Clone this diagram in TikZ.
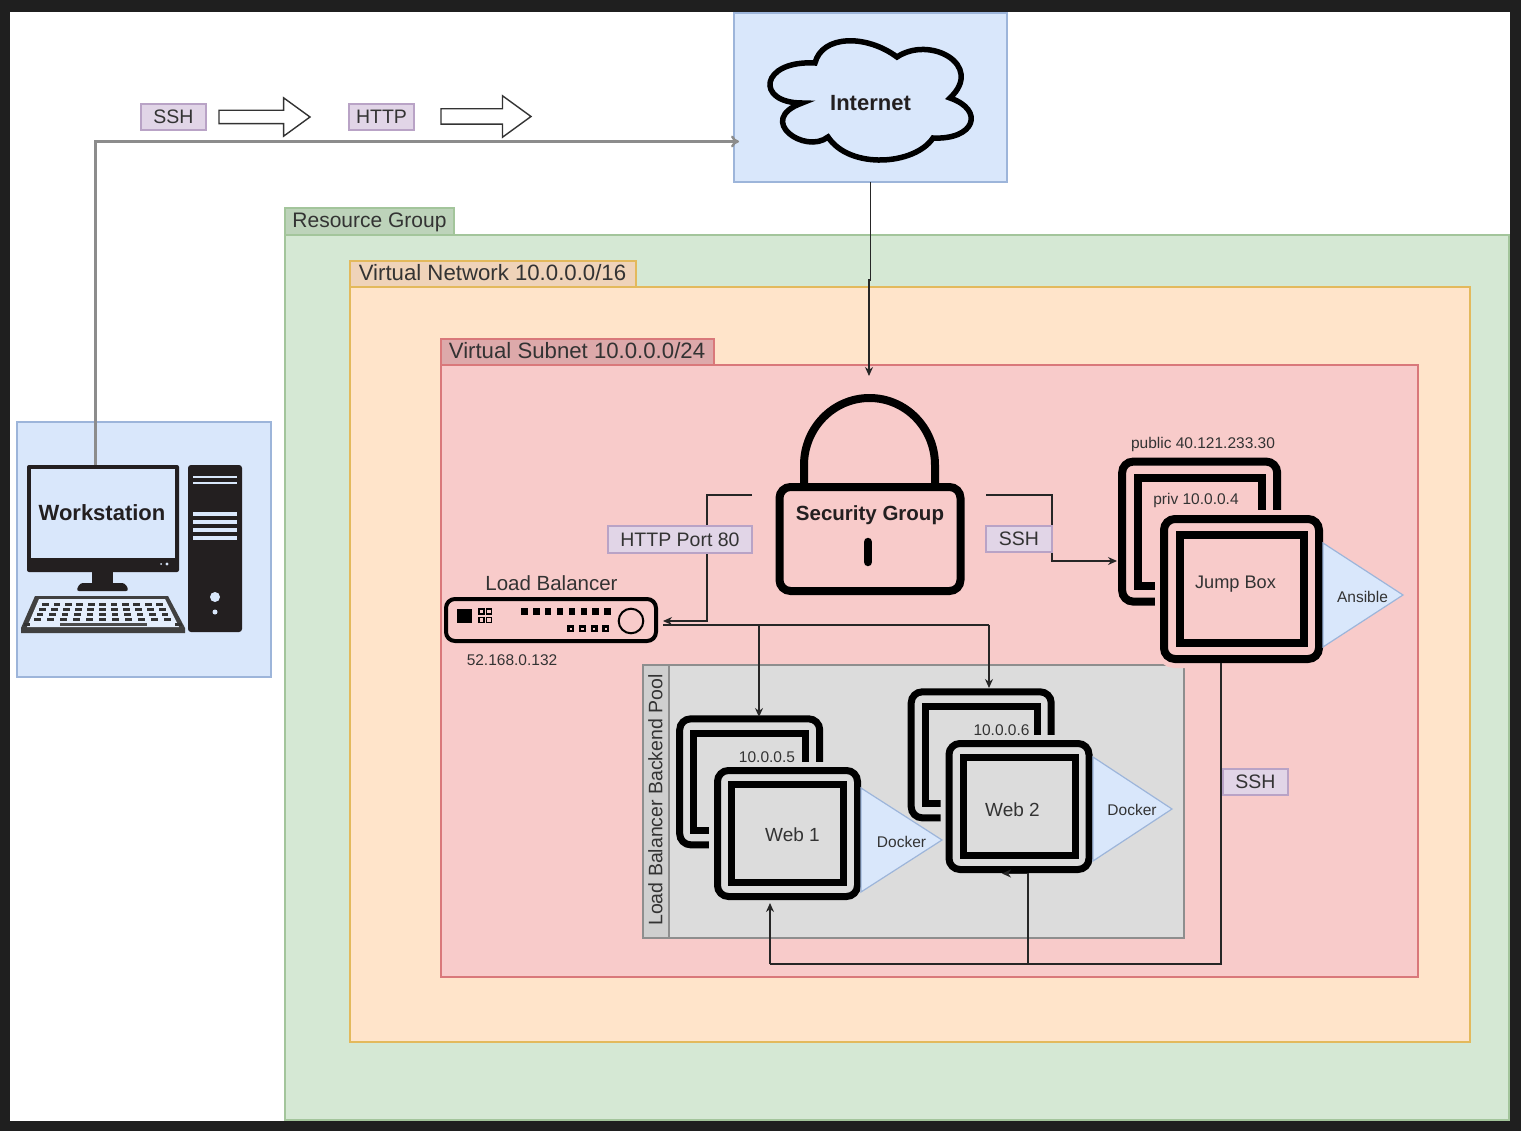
\documentclass[tikz,border=0pt]{standalone}
\usepackage{fontspec}
\setmainfont{Liberation Sans}
\usetikzlibrary{shapes.arrows,arrows.meta}
\definecolor{bluefill}{HTML}{D9E7FB}
\definecolor{blueline}{HTML}{9DB5DA}
\definecolor{greenfill}{HTML}{D5E8D4}
\definecolor{greenline}{HTML}{A3C59B}
\definecolor{greentab}{HTML}{BDD3BA}
\definecolor{orangefill}{HTML}{FFE4CA}
\definecolor{orangeline}{HTML}{E3B95C}
\definecolor{orangetab}{HTML}{EFD3B9}
\definecolor{redfill}{HTML}{F8CBCA}
\definecolor{redline}{HTML}{D9787A}
\definecolor{redtab}{HTML}{DDA9AA}
\definecolor{poolfill}{HTML}{DCDCDC}
\definecolor{poolstrip}{HTML}{CFCFCF}
\definecolor{poolline}{HTML}{8E8E8E}
\definecolor{tagfill}{HTML}{E1D5E7}
\definecolor{tagline}{HTML}{B9A3C6}
\definecolor{ink}{HTML}{333333}
\definecolor{pcblack}{HTML}{231F20}
\tikzset{
    px/.style={font=\fontsize{#1}{#1}\selectfont},
    plainbox/.style={rectangle,draw,inner sep=0pt,outer sep=0pt,line width=1.6pt},
    blockarrow/.style={single arrow,draw=ink,fill=white,line width=1.4pt,inner sep=0pt,outer sep=0pt,anchor=tip,
        text height=#1,text depth=0pt,single arrow head indent=0pt,single arrow tip angle=72},
    tagbox/.style={plainbox,draw=tagline,fill=tagfill,text=ink,px=19.5},
    grouptab/.style={plainbox,text=ink,px=21,anchor=north west},
    smalltext/.style={text=ink,px=15.5,inner sep=0pt},
    bigtext/.style={text=ink,px=19,inner sep=0pt},
    boldtext/.style={text=pcblack,font=\bfseries\fontsize{22}{22}\selectfont,inner sep=0pt},
    wire/.style={draw=black!85,line width=1.2pt},
    linkarrow/.style={-{Stealth[length=9pt,width=8pt]}},
    uplink/.style={draw=black!45,line width=2.4pt,line cap=square,
        -{To[length=8pt,width=12pt]}},
    triangletip/.style={draw=blueline,fill=bluefill,line width=1.2pt}
}
\newcommand{\serverbox}[7]{
    \pgfmathsetmacro{\bx}{#2-0.27*#4}
    \pgfmathsetmacro{\by}{#3-0.41*#5}
    \pgfmathsetmacro{\iw}{0.8*#4}
    \pgfmathsetmacro{\ih}{0.77*#5}
    \node (#1back) [rectangle,draw=black,line width=#7,rounded corners=11pt,inner sep=0pt,
        minimum width=#4pt,minimum height=#5pt] at (\bx,\by) {};
    \node (#1backin) [rectangle,draw=black,line width=#7,inner sep=0pt,
        minimum width=\iw pt,minimum height=\ih pt] at (\bx,\by) {};
    \node (#1halo) [rectangle,draw=#6,fill=#6,line width=#7+10pt,rounded corners=11pt,inner sep=0pt,
        minimum width=#4pt,minimum height=#5pt] at (#2,#3) {};
    \node (#1) [rectangle,draw=black,line width=#7,rounded corners=11pt,inner sep=0pt,
        minimum width=#4pt,minimum height=#5pt] at (#2,#3) {};
    \node (#1in) [rectangle,draw=black,line width=#7,inner sep=0pt,
        minimum width=\iw pt,minimum height=\ih pt] at (#2,#3) {};
}
\begin{document}
\begin{tikzpicture}[x=1pt,y=-1pt]
    \useasboundingbox (0,0) rectangle (1521,1131);
    \fill[black!88] (0,0) rectangle (1521,1131);
    \fill[white] (10,12) rectangle (1510,1121);

    \node (wsbg) [plainbox,draw=blueline,fill=bluefill,minimum width=254pt,minimum height=255pt] at (144,549.5) {};
    \node (inetbg) [plainbox,draw=blueline,fill=bluefill,minimum width=273pt,minimum height=169pt] at (870.5,97.5) {};
    \node (resgroup) [plainbox,draw=greenline,fill=greenfill,minimum width=1224pt,minimum height=885pt] at (897,677.5) {};
    \node (resgrouptab) [grouptab,draw=greenline,fill=greentab,minimum width=169pt,minimum height=27pt] at (285,208) {};
    \node (vnet) [plainbox,draw=orangeline,fill=orangefill,minimum width=1120pt,minimum height=755pt] at (910,664.5) {};
    \node (vnettab) [grouptab,draw=orangeline,fill=orangetab,minimum width=286pt,minimum height=26pt] at (350,261) {};
    \node (subnet) [plainbox,draw=redline,fill=redfill,minimum width=977pt,minimum height=612pt] at (929.5,671) {};
    \node (subnettab) [grouptab,draw=redline,fill=redtab,minimum width=273pt,minimum height=26pt] at (441,339) {};
    \node (pool) [plainbox,draw=poolline,fill=poolfill,minimum width=541pt,minimum height=273pt] at (913.5,801.5) {};
    \node (poolstrip) [plainbox,draw=poolline,fill=poolstrip,minimum width=26pt,minimum height=273pt] at (656,801.5) {};

    \node (restext) [text=ink,px=21,inner sep=0pt] at (369.5,222) {Resource Group};
    \node (vnettext) [text=ink,px=22.2,inner sep=0pt] at (492.5,273) {Virtual Network 10.0.0.0/16};
    \node (subnettext) [text=ink,px=22.2,inner sep=0pt] at (577,351) {Virtual Subnet 10.0.0.0/24};
    \node (pooltext) [text=ink,px=19.5,inner sep=0pt,rotate=90] at (655.5,800) {Load Balancer Backend Pool};

    \coordinate (wsout) at (95.5,466);
    \coordinate (inetin) at (739,141.5);
    \coordinate (inetout) at (870.5,182);
    \coordinate (inetkink) at (869,280);
    \coordinate (sgin) at (869,376);
    \coordinate (sgleft) at (752,495);
    \coordinate (sgright) at (986,495);
    \coordinate (lbin) at (663,621);
    \coordinate (lbout) at (663,625);
    \coordinate (lbbend) at (707,621);
    \coordinate (jumpbend) at (1052,561);
    \coordinate (busleft) at (770,964);
    \coordinate (busmid) at (1028,964);
    \coordinate (busright) at (1221,964);
    \coordinate (webtwotip) at (1002,873.5);

    \draw[wire,linkarrow] (inetout) -- (870.5,280) -- (inetkink) -- (sgin);
    \draw[wire,linkarrow] (sgleft) -| (lbbend) -- (lbin);
    \draw[wire] (lbout) -- (989,625);
    \draw[wire,linkarrow] (sgright) -| (jumpbend) -- (1117,561);

    \serverbox{jumpbox}{1241.5}{589}{155}{140}{redfill}{8pt}
    \serverbox{webone}{787.5}{833.5}{140}{126}{poolfill}{7pt}
    \serverbox{webtwo}{1019}{806.5}{140}{126}{poolfill}{7pt}

    \draw[triangletip] (1323,543) -- (1403,595) -- (1323,647) -- cycle;
    \draw[triangletip] (861,788) -- (942,840) -- (861,892) -- cycle;
    \draw[triangletip] (1093,757) -- (1172,809) -- (1093,861) -- cycle;

    \draw[wire,linkarrow] (759,625) -- (759,717);
    \draw[wire,linkarrow] (989,625) -- (989,688);
    \draw[wire] (jumpbox.south -| busright) -- (busright) -- (busleft);
    \draw[wire,linkarrow] (busleft) -- (770,903);
    \draw[wire,linkarrow] (busmid) -- (1028,873.5) -- (webtwotip);

    \node (sshtagtop) [tagbox,minimum width=65pt,minimum height=26pt] at (173.5,117) {SSH};
    \node (httptagtop) [tagbox,minimum width=65pt,minimum height=26pt] at (381.5,117) {HTTP};
    \node (httptag) [tagbox,minimum width=144pt,minimum height=27pt] at (680,539.5) {HTTP Port 80};
    \node (sshtag) [tagbox,minimum width=66pt,minimum height=26pt] at (1019,539) {SSH};
    \node (sshtagjump) [tagbox,minimum width=65pt,minimum height=26pt] at (1255.5,782) {SSH};

    \node (ssharrow) [blockarrow=12pt,minimum height=91pt,minimum width=37pt,single arrow head extend=12.5pt] at (310,117) {};
    \node (httparrow) [blockarrow=14pt,minimum height=90pt,minimum width=40pt,single arrow head extend=13pt] at (531,116.5) {};

    \draw[uplink] (wsout) |- (inetin);

    \draw[black,line width=5.5pt,line join=miter,miter limit=6]
        (802,103) .. controls (755,103) and (760,60) .. (815,63)
        .. controls (822,35) and (866,34) .. (897,57)
        .. controls (930,35) and (985,65) .. (950,98)
        .. controls (985,110) and (975,140) .. (933,138)
        .. controls (915,165) and (850,170) .. (828,137)
        .. controls (805,155) and (755,120) .. cycle;
    \node (internet) [boldtext] at (870.5,103) {Internet};

    \node (monitor) [rectangle,fill=pcblack,inner sep=0pt,rounded corners=2pt,minimum width=152pt,minimum height=107pt] at (103,518.5) {};
    \node (screen) [rectangle,fill=bluefill,inner sep=0pt,minimum width=144pt,minimum height=89pt] at (103,513.5) {};
    \fill[pcblack] (92,570) rectangle (113,585);
    \fill[pcblack,rounded corners=3pt] (76,591) -- (80,583) -- (125,583) -- (129,591) -- cycle;
    \fill[bluefill] (167,564) circle (1.6pt) (161,564) circle (1pt);
    \node (workstation) [boldtext] at (102,513) {Workstation};
    \node (tower) [rectangle,fill=pcblack,inner sep=0pt,rounded corners=3pt,minimum width=54pt,minimum height=167pt] at (215,548.5) {};
    \foreach \liney/\lineh in {477/2.5,483/2.5,514/4,522/4,530/4,538/4}
        \fill[bluefill] (193,\liney-\lineh/2) rectangle (237,\liney+\lineh/2);
    \fill[bluefill] (215,597) circle (5pt) (215,612) circle (2.5pt);
    \fill[black!75] (35,596) -- (168,596) -- (185,628) -- (185,633) -- (21,633) -- (21,628) -- cycle;
    \fill[bluefill!70!white] (39,599) -- (165,599) -- (179,627) -- (27,627) -- cycle;
    \foreach \row in {0,...,3}
        \foreach \col in {-5,...,5}
            \fill[black!80] ({102.5+\col*(11.4+\row*0.55)-3.4},{602.5+\row*5.1}) rectangle ++(6.8,3);
    \foreach \col in {-6,6}
        \fill[black!80] ({102.5+\col*12.6-3.4},623) rectangle ++(6.8,2.6);
    \fill[black!70] (60,623) rectangle (147,625.6);

    \draw[black,line width=8pt,line join=round] (804,487) -- (804,465) arc[start angle=180,end angle=0,x radius=65.5pt,y radius=67pt] -- (935,487);
    \node (secgroup) [rectangle,draw=black,line width=8pt,rounded corners=11pt,inner sep=0pt,minimum width=181pt,minimum height=104pt] at (870,539) {};
    \draw[black,line width=8.5pt,line cap=round] (868,542) -- (868,562);
    \node (secgrouptext) [boldtext] at (870,515) {\fontsize{20.5}{21}\selectfont Security Group};

    \node (lb) [rectangle,draw=black,line width=4pt,rounded corners=9pt,inner sep=0pt,minimum width=210pt,minimum height=42pt] at (551,620) {};
    \node (lbtext) [text=ink,px=20.5,inner sep=0pt] at (551.5,583) {Load Balancer};
    \node (lbaddr) [smalltext] at (512,660) {52.168.0.132};
    \fill[black] (457,609) rectangle (472,623);
    \foreach \portx in {481.5,489}
        \foreach \porty in {611.5,620}
            \draw[black,line width=1.6pt] (\portx-2.6,\porty-2.6) rectangle ++(5.2,5.2);
    \foreach \col in {0,...,7}
        \fill[black] (521+\col*11.9,608) rectangle ++(6.6,6.8);
    \foreach \col in {0,...,3}
        \draw[black,line width=2.4pt] (568.5+\col*11.6,626.6) rectangle ++(4.6,4.6);
    \draw[black,line width=2pt] (631,621) circle (12.3pt);

    \node (publicip) [smalltext] at (1203,444) {public 40.121.233.30};
    \node (privip) [smalltext] at (1196,500.5) {priv 10.0.0.4};
    \node (jumptext) [bigtext,px=18.2] at (1235.5,584.5) {Jump Box};
    \node (ansible) [smalltext] at (1362.5,596.5) {Ansible};
    \node (webonip) [smalltext] at (767,757) {10.0.0.5};
    \node (webonetext) [bigtext] at (792.5,835) {Web 1};
    \node (dockerone) [smalltext] at (901.5,841.5) {Docker};
    \node (webtwoip) [smalltext] at (1001.5,730) {10.0.0.6};
    \node (webtwotext) [bigtext] at (1012.5,809.5) {Web 2};
    \node (dockertwo) [smalltext] at (1132,810) {Docker};
\end{tikzpicture}
\end{document}
